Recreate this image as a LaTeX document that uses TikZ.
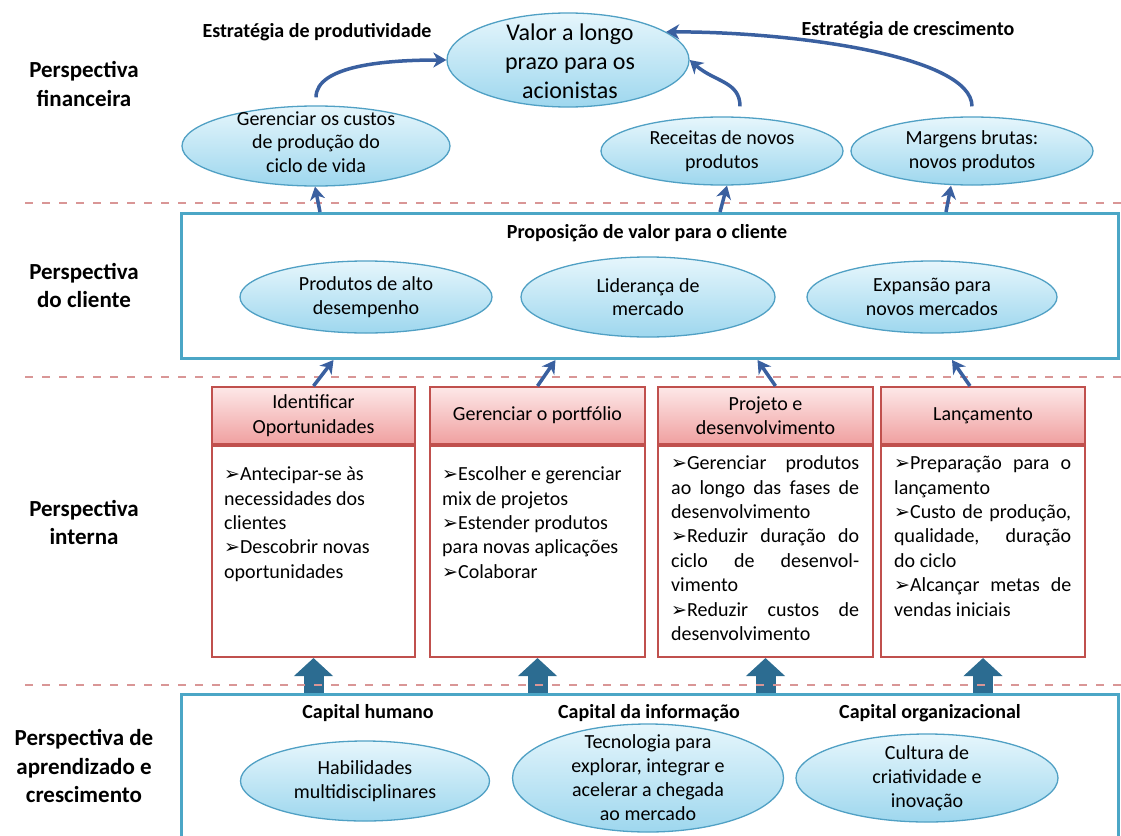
\documentclass[tikz,border=0pt]{standalone}
\usepackage{fontspec}
\setmainfont{Carlito}
\newfontfamily\dejavu{DejaVu Sans}
\usetikzlibrary{shapes,arrows.meta}

\definecolor{pinkline}{RGB}{217,150,150}
\definecolor{tealline}{RGB}{75,166,198}
\definecolor{ellline}{RGB}{80,160,196}
\definecolor{elltop}{RGB}{230,246,252}
\definecolor{ellbot}{RGB}{158,215,238}
\definecolor{redline}{RGB}{192,80,77}
\definecolor{headtop}{RGB}{253,232,232}
\definecolor{headbot}{RGB}{240,160,160}
\definecolor{arrowblue}{RGB}{58,96,160}
\definecolor{blockblue}{RGB}{44,108,145}

\newcommand{\bulletarrow}{{\dejavu\fontsize{19}{19}\selectfont ➢}}

\begin{document}
\begin{tikzpicture}[x=1pt,y=-1pt,->,>={Stealth[length=13pt,width=15pt,inset=4pt]}]
	\useasboundingbox (0,0) rectangle (1121,835);
	\clip (0,0) rectangle (1121,835);

	\def \finrow{151}
	\def \clirow{297}
	\def \headrow{415.5}
	\def \caprow{713}

	\tikzstyle{f-node}=[ellipse,draw=ellline,line width=1.3pt,top color=elltop,bottom color=ellbot,inner sep=0pt]
	\tikzstyle{f-text}=[align=center,inner sep=0pt,font=\fontsize{20}{23.5}\selectfont]
	\tikzstyle{v-text}=[align=center,inner sep=0pt,font=\fontsize{24}{29}\selectfont]
	\tikzstyle{p-head}=[rectangle,draw=redline,line width=2pt,top color=headtop,bottom color=headbot,minimum height=57,inner sep=0pt,align=center,font=\fontsize{20}{24.4}\selectfont]
	\tikzstyle{p-body}=[rectangle,draw=redline,line width=2pt,fill=white,minimum height=211,inner sep=0pt,anchor=north]
	\tikzstyle{p-text}=[anchor=north west,inner sep=0pt,align=left,font=\fontsize{20}{24.4}\selectfont]
	\tikzstyle{frame}=[rectangle,draw=tealline,line width=3pt,inner sep=0pt,anchor=north west]
	\tikzstyle{annot}=[align=center,inner sep=0pt,font=\bfseries\fontsize{23}{28.5}\selectfont]
	\tikzstyle{title}=[inner sep=0pt,font=\bfseries\fontsize{20}{24}\selectfont]
	\tikzstyle{divider}=[-,draw=pinkline,line width=1.5pt,dash pattern=on 8pt off 9pt]
	\tikzstyle{link}=[draw=arrowblue,line width=3.5pt]
	\tikzstyle{block}=[draw=blockblue,line width=20pt,-{Triangle[length=18pt,width=38pt]}]

	% perspectives
	\node[annot] (p-fin) at (84,84)    {Perspectiva\\financeira};
	\node[annot] (p-cli) at (84,285.5) {Perspectiva\\do cliente};
	\node[annot] (p-int) at (84,522.5) {Perspectiva\\interna};
	\node[annot] (p-apr) at (84,766)   {Perspectiva de\\aprendizado e\\crescimento};

	% financial
	\node[title] (st-prod) at (317,32) {Estratégia de produtividade};
	\node[title] (st-cres) at (908,30) {Estratégia de crescimento};

	\node[f-node,minimum width=242,minimum height=94] (val) at (568,60)     {};
	\node[v-text] at (570,61) {Valor a longo\\prazo para os\\acionistas};
	\node[f-node,minimum width=268,minimum height=80] (gc)  at (316,146)    {};
	\node[f-text] at (316,142) {Gerenciar os custos\\de produção do\\ciclo de vida};
	\node[f-node,minimum width=242,minimum height=68] (rc)  at (722,\finrow) {};
	\node[f-text] at (rc) {Receitas de novos\\produtos};
	\node[f-node,minimum width=242,minimum height=68] (mc)  at (972,\finrow) {};
	\node[f-text] at (mc) {Margens brutas:\\novos produtos};

	% customer
	\node[frame,minimum width=937,minimum height=145] (client) at (180,212) {};
	\node[title] (cli-t) at (647,233) {Proposição de valor para o cliente};
	\node[f-node,minimum width=252,minimum height=72] (c1) at (366,\clirow) {};
	\node[f-text] at (c1) {Produtos de alto\\desempenho};
	\node[f-node,minimum width=254,minimum height=80] (c2) at (648,\clirow) {};
	\node[f-text] at (c2) {Liderança de\\mercado};
	\node[f-node,minimum width=250,minimum height=72] (c3) at (932,\clirow) {};
	\node[f-text] at (c3) {Expansão para\\novos mercados};

	% internal
	\node[p-head,minimum width=203] (h1) at (313.5,\headrow) {Identificar\\Oportunidades};
	\node[p-head,minimum width=215] (h2) at (537.5,\headrow) {Gerenciar o portfólio};
	\node[p-head,minimum width=215] (h3) at (765.5,\headrow) {Projeto e\\desenvolvimento};
	\node[p-head,minimum width=204] (h4) at (983,\headrow)   {Lançamento};

	\node[p-body,minimum width=203] (b1) at (h1.south) {};
	\node[p-body,minimum width=215] (b2) at (h2.south) {};
	\node[p-body,minimum width=215] (b3) at (h3.south) {};
	\node[p-body,minimum width=204] (b4) at (h4.south) {};

	\node[p-text] (t1) at ([shift={(13,18.5)}]b1.north west)
		{\strut\bulletarrow Antecipar-se às\\necessidades dos\\clientes\\\bulletarrow Descobrir novas\\oportunidades};
	\node[p-text] (t2) at ([shift={(13,18.5)}]b2.north west)
		{\strut\bulletarrow Escolher e gerenciar\\mix de projetos\\\bulletarrow Estender produtos\\para novas aplicações\\\bulletarrow Colaborar};
	\node[p-text] (t3) at ([shift={(14,7.5)}]b3.north west)
		{\strut\makebox[188pt][s]{\bulletarrow Gerenciar produtos}\\
		 \makebox[188pt][s]{ao longo das fases de}\\
		 desenvolvimento\\
		 \makebox[188pt][s]{\bulletarrow Reduzir duração do}\\
		 \makebox[188pt][s]{ciclo de desenvol-}\\
		 vimento\\
		 \makebox[188pt][s]{\bulletarrow Reduzir custos de}\\
		 desenvolvimento};
	\node[p-text] (t4) at ([shift={(14,7.5)}]b4.north west)
		{\strut\makebox[177pt][s]{\bulletarrow Preparação para o}\\
		 lançamento\\
		 \makebox[177pt][s]{\bulletarrow Custo de produção,}\\
		 \makebox[177pt][s]{qualidade, duração}\\
		 do ciclo\\
		 \makebox[177pt][s]{\bulletarrow Alcançar metas de}\\
		 vendas iniciais};

	% learning and growth
	\node[frame,minimum width=937,minimum height=160] (learn) at (180,693) {};
	\draw[block] (b1.south |- learn.north) -- (b1.south);
	\draw[block] (b2.south |- learn.north) -- (b2.south);
	\draw[block] (b3.south |- learn.north) -- (b3.south);
	\draw[block] (b4.south |- learn.north) -- (b4.south);

	\node[title] (cap1) at (368,\caprow) {Capital humano};
	\node[title] (cap2) at (649,\caprow) {Capital da informação};
	\node[title] (cap3) at (930,\caprow) {Capital organizacional};
	\node[f-node,minimum width=249,minimum height=80]  (a1) at (365,781) {};
	\node[f-text,font=\fontsize{20}{24}\selectfont] at (a1) {Habilidades\\multidisciplinares};
	\node[f-node,minimum width=271,minimum height=108] (a2) at (648,778) {};
	\node[f-text,font=\fontsize{20}{24}\selectfont] at (a2) {Tecnologia para\\explorar, integrar e\\acelerar a chegada\\ao mercado};
	\node[f-node,minimum width=262,minimum height=88]  (a3) at (927,778) {};
	\node[f-text,font=\fontsize{20}{24}\selectfont] at (a3) {Cultura de\\criatividade e\\inovação};

	% dividers
	\draw[divider] (25,203) -- (1121,203);
	\draw[divider] (25,377) -- (1121,377);
	\draw[divider] (25,685) -- (1121,685);

	% links
	\draw[link,shorten <=8pt] (gc.north) .. controls +(0,-40) and +(-60,0) .. (val.west);
	\draw[link,shorten <=10pt] ([xshift=18pt]rc.north) .. controls +(0,-35) and +(25,22) .. (val.east);
	\draw[link,shorten <=10pt] (mc.north) .. controls +(0,-60) and +(130,0) .. (val.16);

	\draw[link] ([xshift=4pt]gc.south |- client.north) -- ([xshift=-1pt]gc.south);
	\draw[link] ([xshift=-2pt]rc.south |- client.north) -- ([xshift=5pt]rc.south);
	\draw[link] ([xshift=-26pt]mc.south |- client.north) -- ([xshift=-21pt]mc.south);

	\draw[link] (h1.north) -- ([xshift=20pt]h1.north |- client.south);
	\draw[link] (h2.north) -- ([xshift=18pt]h2.north |- client.south);
	\draw[link] ([xshift=10pt]h3.north) -- ([xshift=-8pt]h3.north |- client.south);
	\draw[link] ([xshift=-13pt]h4.north) -- ([xshift=-31pt]h4.north |- client.south);
\end{tikzpicture}
\end{document}
